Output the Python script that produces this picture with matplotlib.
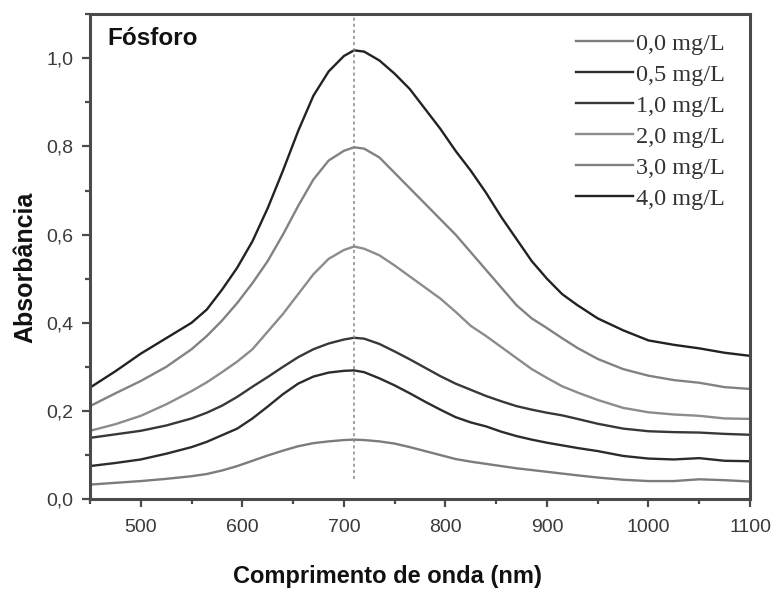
import matplotlib
matplotlib.use('Agg')
import matplotlib.pyplot as plt
from matplotlib.ticker import MultipleLocator, FuncFormatter

# wavelengths (nm) and absorbance
wl = [450, 475, 500, 525, 550, 565, 580, 595, 610, 625, 640, 655, 670, 685, 700, 710, 720, 735, 750,
      765, 780, 795, 810, 825, 840, 855, 870, 885, 900, 915, 930, 950, 975, 1000, 1025, 1050, 1075, 1100]

a00 = [0.033, 0.037, 0.041, 0.046, 0.052, 0.057, 0.065, 0.075, 0.087, 0.099, 0.110, 0.120, 0.127,
       0.131, 0.134, 0.135, 0.134, 0.131, 0.126, 0.118, 0.109, 0.100, 0.091, 0.085, 0.080, 0.075,
       0.070, 0.066, 0.062, 0.058, 0.054, 0.049, 0.044, 0.041, 0.041, 0.045, 0.043, 0.040]
a05 = [0.075, 0.082, 0.090, 0.103, 0.118, 0.130, 0.145, 0.160, 0.183, 0.210, 0.238, 0.262, 0.278,
       0.287, 0.291, 0.292, 0.288, 0.274, 0.258, 0.240, 0.221, 0.203, 0.186, 0.174, 0.165, 0.153,
       0.143, 0.135, 0.128, 0.122, 0.116, 0.109, 0.098, 0.092, 0.090, 0.093, 0.087, 0.086]
a10 = [0.139, 0.147, 0.155, 0.167, 0.183, 0.196, 0.212, 0.232, 0.255, 0.277, 0.300, 0.322, 0.340,
       0.353, 0.362, 0.366, 0.364, 0.352, 0.335, 0.317, 0.298, 0.279, 0.262, 0.248, 0.234, 0.222,
       0.211, 0.203, 0.196, 0.190, 0.182, 0.171, 0.160, 0.154, 0.152, 0.151, 0.148, 0.146]
a20 = [0.155, 0.170, 0.189, 0.215, 0.245, 0.265, 0.288, 0.312, 0.340, 0.380, 0.420, 0.465, 0.510,
       0.545, 0.565, 0.573, 0.568, 0.553, 0.530, 0.505, 0.480, 0.455, 0.425, 0.393, 0.370, 0.345,
       0.320, 0.295, 0.275, 0.256, 0.242, 0.225, 0.207, 0.197, 0.192, 0.189, 0.183, 0.182]
a30 = [0.211, 0.240, 0.268, 0.300, 0.340, 0.370, 0.405, 0.445, 0.490, 0.540, 0.600, 0.665, 0.725,
       0.768, 0.790, 0.798, 0.795, 0.775, 0.740, 0.705, 0.670, 0.635, 0.600, 0.560, 0.520, 0.480,
       0.440, 0.410, 0.388, 0.365, 0.343, 0.318, 0.295, 0.280, 0.270, 0.264, 0.254, 0.250]
a40 = [0.253, 0.290, 0.330, 0.365, 0.400, 0.430, 0.475, 0.525, 0.585, 0.660, 0.745, 0.835, 0.915,
       0.970, 1.005, 1.018, 1.015, 0.995, 0.965, 0.930, 0.885, 0.840, 0.790, 0.745, 0.695, 0.640,
       0.590, 0.540, 0.500, 0.465, 0.440, 0.410, 0.383, 0.360, 0.350, 0.342, 0.332, 0.325]

labels = ['0,0 mg/L', '0,5 mg/L', '1,0 mg/L', '2,0 mg/L', '3,0 mg/L', '4,0 mg/L']
series = [a00, a05, a10, a20, a30, a40]
colors = ['#7c7c7c', '#2c2c2c', '#383838', '#8c8c8c', '#828282', '#222222']

peak_wl = 710

sans = ['Liberation Sans', 'DejaVu Sans']

fig = plt.figure(figsize=(7.76, 5.90), dpi=100)
ax = fig.add_axes([0.116, 0.154, 0.8505, 0.822])

for y, lab, c in zip(series, labels, colors):
    ax.plot(wl, y, color=c, lw=1.7, label=lab)

ax.plot([peak_wl, peak_wl], [0.045, 1.1], color='#888888', lw=1.1, linestyle=(0, (2, 2)))

ax.set_xlim(450, 1100)
ax.set_ylim(0, 1.1)
ax.xaxis.set_major_locator(MultipleLocator(100))
ax.xaxis.set_minor_locator(MultipleLocator(50))
ax.yaxis.set_major_locator(MultipleLocator(0.2))
ax.yaxis.set_minor_locator(MultipleLocator(0.1))
ax.yaxis.set_major_formatter(FuncFormatter(lambda v, p: ('%.1f' % v).replace('.', ',')))

for s in ax.spines.values():
    s.set_color('#4a4a4a')
    s.set_linewidth(2.2)
ax.tick_params(which='major', direction='out', length=6, width=1.6, color='#4a4a4a',
               labelsize=14, labelcolor='#3a3a3a', pad=6)
ax.tick_params(axis='x', which='major', pad=8)
ax.tick_params(which='minor', direction='out', length=3.5, width=1.6, color='#4a4a4a')
for t in ax.get_xticklabels() + ax.get_yticklabels():
    t.set_family(sans)

ax.set_xlabel('Comprimento de onda (nm)', fontsize=17, fontweight='bold', family=sans,
              color='#111111')
ax.xaxis.set_label_coords(0.45, -0.135)
ax.set_ylabel('Absorbância', fontsize=18, fontweight='bold', family=sans, color='#111111')
ax.yaxis.set_label_coords(-0.08, 0.477)

ax.text(0.026, 0.936, 'Fósforo', transform=ax.transAxes, fontsize=17.5, fontweight='bold',
        family=sans, va='baseline', ha='left', color='#111111')

leg = ax.legend(loc='upper right', bbox_to_anchor=(0.962, 0.962), frameon=False,
                borderaxespad=0, borderpad=0,
                prop={'family': ['Liberation Serif', 'DejaVu Serif'], 'size': 17.5},
                handlelength=2.35, handletextpad=0.1, labelspacing=0.37)
for t in leg.get_texts():
    t.set_color('#333333')

fig.savefig('out.png', dpi=100)
